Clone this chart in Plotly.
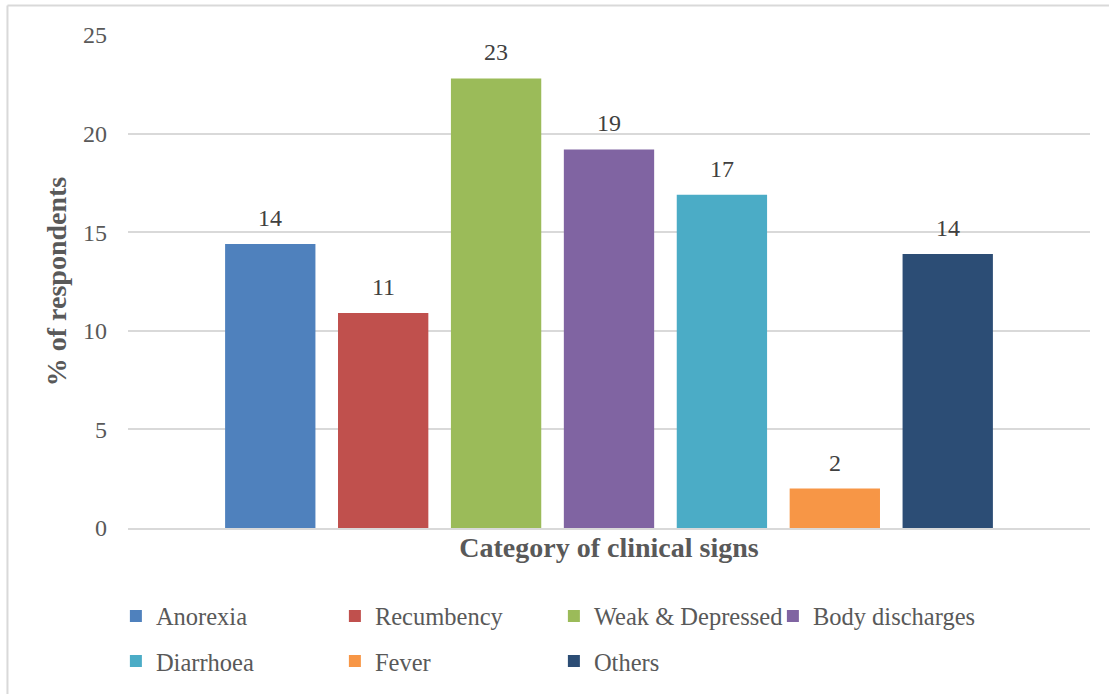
import plotly.graph_objects as go

# Clinical sign categories and the share of respondents reporting each
signs = ["Anorexia", "Recumbency", "Weak & Depressed", "Body discharges",
         "Diarrhoea", "Fever", "Others"]
pct_respondents = [14.4, 10.9, 22.8, 19.2, 16.9, 2.0, 13.9]
bar_colors = ["#4F81BD", "#C0504D", "#9BBB59", "#8064A2",
              "#4BACC6", "#F79646", "#2C4D75"]
y_ticks = [0, 5, 10, 15, 20, 25]

FONT = "Liberation Serif"
GREY = "#595959"
TXT = 24

fig = go.Figure()
for i, (sign, val, col) in enumerate(zip(signs, pct_respondents, bar_colors)):
    fig.add_trace(go.Bar(
        x=[sign], y=[val], name=sign, width=0.8,
        marker=dict(color=col, line=dict(width=0)),
        # first four entries on the upper legend row, the rest below
        legend="legend" if i < 4 else "legend2",
    ))

# value labels above each bar, rounded to whole percent
annotations = [
    dict(x=sign, y=val, xref="x", yref="y", text=f"{val:.0f}",
         showarrow=False, yanchor="bottom", yshift=11,
         font=dict(family=FONT, size=TXT, color="#404040"))
    for sign, val in zip(signs, pct_respondents)
]

legend_common = dict(
    orientation="h", xref="container", yref="container",
    x=0.1045, xanchor="left", yanchor="middle",
    entrywidth=174, entrywidthmode="pixels",
    font=dict(family=FONT, size=24.5, color=GREY),
    bgcolor="rgba(0,0,0,0)", borderwidth=0,
)

fig.update_layout(
    width=1109, height=694,
    margin=dict(l=128, r=19, t=35, b=166),
    paper_bgcolor="white", plot_bgcolor="white",
    font=dict(family=FONT, size=TXT, color=GREY),
    barmode="overlay",
    showlegend=True,
    legend=dict(legend_common, y=0.1124),
    legend2=dict(legend_common, y=0.0475),
    annotations=annotations,
    shapes=[
        dict(type="line", xref="paper", yref="paper",
             x0=-0.1253, x1=-0.1253, y0=-0.4, y1=1.0598,
             line=dict(color="#D9D9D9", width=2)),
        dict(type="line", xref="paper", yref="paper",
             x0=-0.1253, x1=1.05, y0=1.0598, y1=1.0598,
             line=dict(color="#D9D9D9", width=2)),
    ],
)

fig.update_xaxes(
    type="category", categoryorder="array", categoryarray=signs,
    range=[-1.26, 7.26], showticklabels=False, ticks="",
    showgrid=False, showline=True, linecolor="#D9D9D9", linewidth=1.5,
    zeroline=False,
    title=dict(text="<b>Category of clinical signs</b>", standoff=9,
               font=dict(family=FONT, size=28, color=GREY)),
)
fig.update_yaxes(
    range=[0, 25], tickvals=y_ticks, ticks="",
    showgrid=True, gridcolor="#D9D9D9", gridwidth=1.5,
    zeroline=False, showline=False,
    tickfont=dict(family=FONT, size=TXT, color=GREY),
    ticklabelstandoff=20,
    title=dict(text="<b>% of respondents</b>", standoff=8,
               font=dict(family=FONT, size=28, color=GREY)),
)

fig.write_html("out.html")
